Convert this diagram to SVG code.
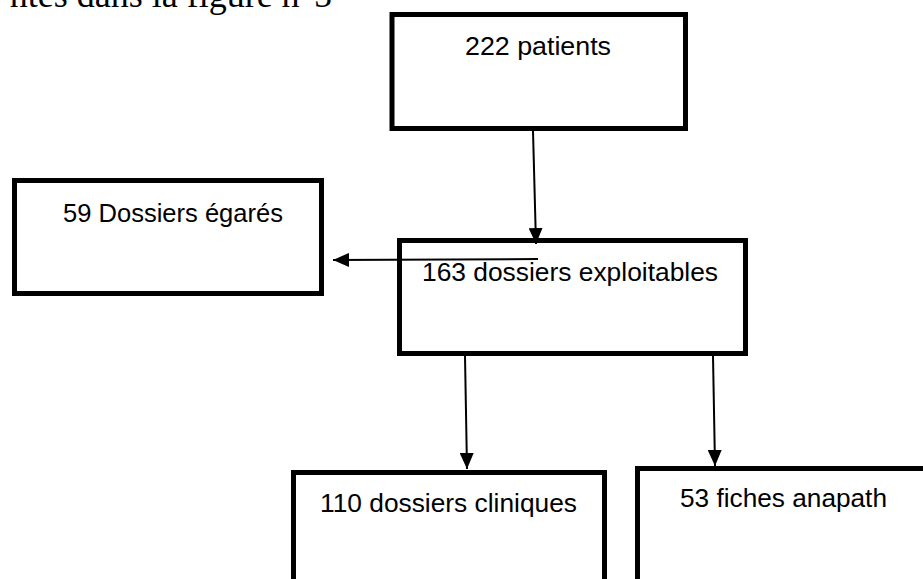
<svg xmlns="http://www.w3.org/2000/svg" width="923" height="579" viewBox="0 0 923 579">
  <style>
    .box { fill: #ffffff; stroke: #000000; stroke-width: 5; }
    .lbl { font-family: "Liberation Sans", Arial, sans-serif; font-size: 25px; fill: #000000; }
    .cap { font-family: "Liberation Serif", "Times New Roman", serif; font-size: 36px; fill: #000000; }
    .conn { stroke: #000000; stroke-width: 2; fill: none; marker-end: url(#arrow); }
  </style>
  <defs>
    <marker id="arrow" markerUnits="userSpaceOnUse" markerWidth="16" markerHeight="14" viewBox="0 0 16 14" refX="16" refY="7" orient="auto">
      <path d="M0,0 L16,7 L0,14 Z" fill="#000000"/>
    </marker>
  </defs>
  <rect width="923" height="579" fill="#ffffff"/>
  <text class="cap" x="332" y="7" text-anchor="end">ntes dans la figure n°5</text>

  <g id="n-patients">
    <rect class="box" x="392" y="14.5" width="293.5" height="114"/>
    <text class="lbl" x="465" y="55" textLength="146" lengthAdjust="spacingAndGlyphs">222 patients</text>
  </g>
  <g id="n-egares">
    <rect class="box" x="14.5" y="180.5" width="307" height="113"/>
    <text class="lbl" x="63" y="222" textLength="220" lengthAdjust="spacingAndGlyphs">59 Dossiers égarés</text>
  </g>
  <g id="n-exploitables">
    <rect class="box" x="399.5" y="240.5" width="346" height="113"/>
    <text class="lbl" x="422" y="281" textLength="296" lengthAdjust="spacingAndGlyphs">163 dossiers exploitables</text>
  </g>
  <g id="n-cliniques">
    <rect class="box" x="293.5" y="472.5" width="311" height="150"/>
    <text class="lbl" x="320" y="512" textLength="257" lengthAdjust="spacingAndGlyphs">110 dossiers cliniques</text>
  </g>
  <g id="n-anapath">
    <rect class="box" x="637.5" y="468.5" width="320" height="150"/>
    <text class="lbl" x="680" y="507" textLength="207" lengthAdjust="spacingAndGlyphs">53 fiches anapath</text>
  </g>

  <g id="connectors">
    <line class="conn" x1="533" y1="131" x2="536" y2="244"/>
    <line class="conn" x1="538" y1="259" x2="333" y2="260"/>
    <line class="conn" x1="465" y1="356" x2="467" y2="469"/>
    <line class="conn" x1="713" y1="356" x2="715" y2="466"/>
  </g>
</svg>
